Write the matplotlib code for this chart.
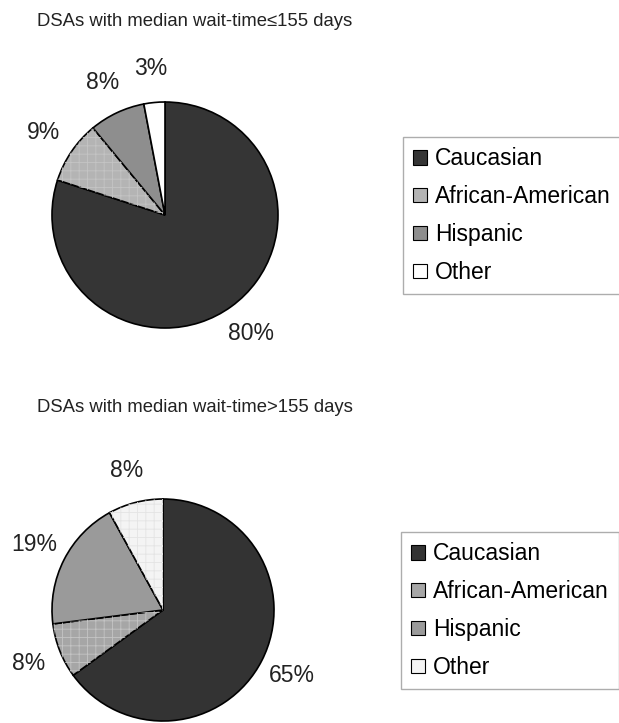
import matplotlib
matplotlib.use("Agg")
import matplotlib.pyplot as plt
from matplotlib.patches import Patch

plt.rcParams['font.family'] = ['Liberation Sans', 'DejaVu Sans']
plt.rcParams['hatch.linewidth'] = 0.6

groups = ['Caucasian', 'African-American', 'Hispanic', 'Other']
short_wait = [80, 9, 8, 3]
long_wait = [65, 8, 19, 8]

title_short = "DSAs with median wait-time\u2264155 days"
title_long = "DSAs with median wait-time>155 days"

colors_short = ['#353535', '#b4b4b4', '#8e8e8e', '#ffffff']
colors_long = ['#333333', '#a6a6a6', '#9a9a9a', '#f4f4f4']
hatch_cols = ['#3c3c3c', '#c4c4c4', '#9a9a9a', '#e4e4e4']

W, H = 619, 723
fig = plt.figure(figsize=(W / 100, H / 100), dpi=100)


def pie_axes(cx, cy, r, half=150):
    ax = fig.add_axes([(cx - half) / W, (H - cy - half) / H, 2 * half / W, 2 * half / H])
    lim = half / r
    ax.set_xlim(-lim, lim)
    ax.set_ylim(-lim, lim)
    ax.set_aspect('equal')
    ax.axis('off')
    return ax


def draw_pie(ax, values, colors, hatch_other):
    wedges, texts, autotexts = ax.pie(
        values, colors=colors, startangle=90, counterclock=False,
        autopct='%d%%', pctdistance=1.3, radius=1, frame=True,
        wedgeprops=dict(edgecolor='black', linewidth=1.2),
        textprops=dict(fontsize=16.5, color='#222222'))
    # checker texture on the lighter slices
    hatches = [None, '++', None, '++' if hatch_other else None]
    over, _ = ax.pie(values, colors=['none'] * 4, startangle=90, counterclock=False,
                     radius=1, frame=True, wedgeprops=dict(linewidth=0))
    for w, h, c in zip(over, hatches, hatch_cols):
        if h:
            w.set_hatch(h)
            w.set_edgecolor(c)
            w.set_linewidth(0)
    for w in wedges:
        w.set_zorder(1)
    ax.axis('off')
    return wedges


def draw_legend(colors, x, y):
    handles = [Patch(facecolor=c, edgecolor='black', linewidth=0.8) for c in colors]
    fig.legend(handles, groups, loc='upper left',
               bbox_to_anchor=(x / W, 1 - y / H), fontsize=16.5,
               frameon=True, fancybox=False, edgecolor='#999999',
               handlelength=0.6, handleheight=0.6, handletextpad=0.35,
               labelspacing=0.65, borderpad=0.45, borderaxespad=0)


fig.text(37 / W, 1 - 22 / H, title_short, fontsize=13.3, va='center', color='#222222')
fig.text(37 / W, 1 - 408 / H, title_long, fontsize=13.3, va='center', color='#222222')

ax1 = pie_axes(165, 215, 113)
draw_pie(ax1, short_wait, colors_short, False)
draw_legend(colors_short, 403, 137)

ax2 = pie_axes(163, 610, 111)
draw_pie(ax2, long_wait, colors_long, True)
draw_legend(colors_long, 401, 532)

fig.savefig('out.png', dpi=100)
